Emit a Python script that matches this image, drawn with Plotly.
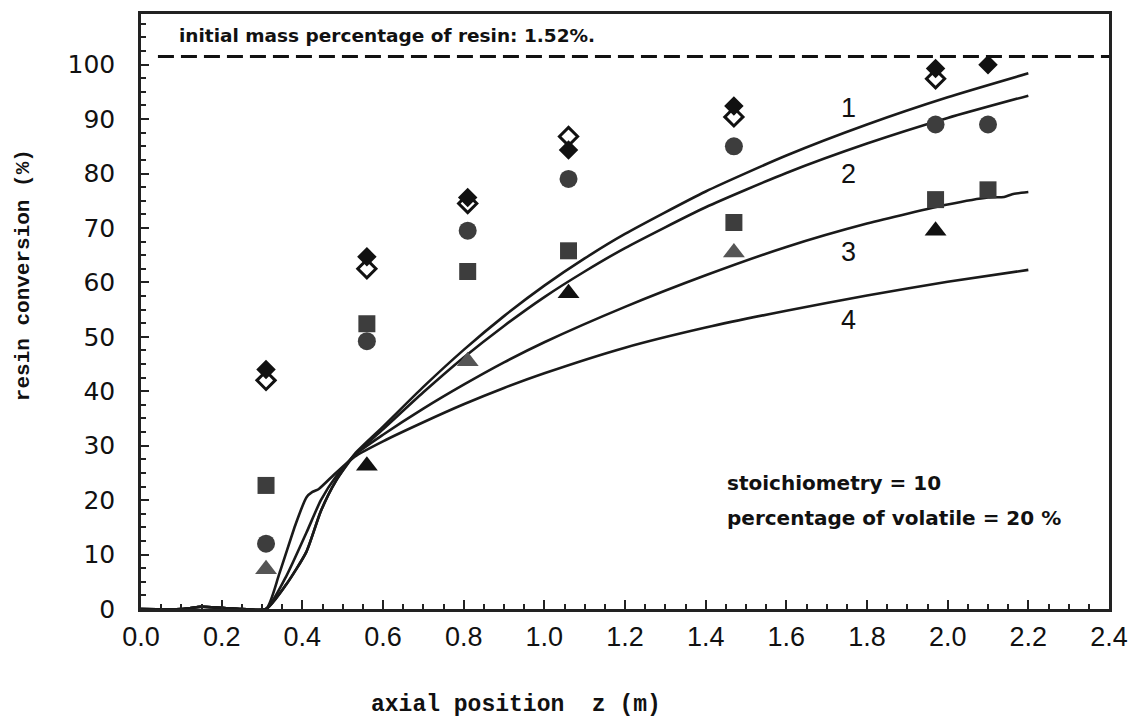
import plotly.graph_objects as go

# Measured resin conversion (%) at the sampling positions along the reactor
z_exp = [0.31, 0.56, 0.81, 1.06, 1.47, 1.97, 2.10]
conv_diamond_filled = [44.0, 64.7, 75.6, 84.3, 92.4, 99.3, 100.0]
conv_diamond_open = [42.0, 62.5, 74.5, 86.8, 90.4, 97.4, None]
conv_circle = [12.0, 49.2, 69.5, 79.0, 85.0, 89.0, 89.0]
conv_square = [22.7, 52.4, 62.0, 65.8, 71.0, 75.2, 77.0]
conv_triangle = [7.3, 26.3, 45.5, 58.0, 65.5, 69.5, None]
triangle_colors = ["#555555", "#111111", "#555555", "#111111", "#555555", "#111111", "#111111"]

# Simulated conversion profiles (curves 1-4)
curve1_z = [0.0, 0.10, 0.15, 0.20, 0.25, 0.31, 0.36, 0.41, 0.446, 0.483, 0.53, 0.60, 0.70,
            0.80, 0.90, 1.00, 1.10, 1.20, 1.40, 1.60, 1.80, 2.00, 2.20]
curve1_v = [0.0, 0.0, 0.4, 0.2, 0.0, 0.0, 4.5, 10.5, 18.0, 23.5, 28.5, 33.5, 40.8,
            47.6, 53.8, 59.4, 64.4, 68.9, 76.7, 83.3, 89.0, 94.0, 98.4]

curve2_z = [0.0, 0.10, 0.15, 0.20, 0.25, 0.31, 0.36, 0.41, 0.446, 0.483, 0.53, 0.60, 0.70,
            0.80, 0.90, 1.00, 1.10, 1.20, 1.40, 1.60, 1.80, 2.00, 2.20]
curve2_v = [0.0, 0.0, 0.4, 0.2, 0.0, 0.0, 4.5, 10.5, 18.0, 23.5, 28.3, 33.0, 39.8,
            46.2, 52.0, 57.3, 62.0, 66.3, 73.8, 80.1, 85.5, 90.2, 94.3]

curve3_z = [0.0, 0.10, 0.15, 0.20, 0.25, 0.31, 0.36, 0.41, 0.446, 0.483, 0.53, 0.60, 0.70,
            0.80, 0.90, 1.00, 1.20, 1.40, 1.60, 1.80, 2.00, 2.10, 2.14, 2.16, 2.20]
curve3_v = [0.0, 0.0, 0.4, 0.2, 0.0, 0.0, 6.0, 14.0, 20.0, 24.3, 28.3, 32.0, 36.8,
            41.2, 45.3, 49.0, 55.5, 61.3, 66.5, 70.8, 74.3, 75.6, 75.7, 76.2, 76.6]

curve4_z = [0.0, 0.10, 0.15, 0.20, 0.25, 0.31, 0.343, 0.384, 0.41, 0.425, 0.44, 0.483, 0.53,
            0.60, 0.70, 0.80, 0.90, 1.00, 1.20, 1.40, 1.60, 1.80, 2.00, 2.20]
curve4_v = [0.0, 0.0, 0.4, 0.2, 0.0, 0.0, 6.5, 15.7, 20.5, 21.5, 22.0, 25.0, 28.0,
            30.8, 34.3, 37.6, 40.6, 43.3, 48.0, 51.7, 54.8, 57.6, 60.1, 62.3]

curve_labels = ["1", "2", "3", "4"]
curve_label_z = [1.755, 1.755, 1.755, 1.755]
curve_label_v = [92.0, 80.0, 65.5, 53.0]

initial_level = 101.5  # dashed reference line

fig = go.Figure()

line_style = dict(color="#1a1a1a", width=2.6, shape="spline", smoothing=0.6)
for cz, cv in [(curve1_z, curve1_v), (curve2_z, curve2_v), (curve3_z, curve3_v), (curve4_z, curve4_v)]:
    fig.add_trace(go.Scatter(x=cz, y=cv, mode="lines", line=line_style,
                             hoverinfo="skip", showlegend=False))

fig.add_trace(go.Scatter(x=z_exp, y=conv_square, mode="markers", showlegend=False,
                         marker=dict(symbol="square", size=17, color="#3d3d3d")))
fig.add_trace(go.Scatter(x=z_exp, y=conv_circle, mode="markers", showlegend=False,
                         marker=dict(symbol="circle", size=18, color="#3d3d3d")))
fig.add_trace(go.Scatter(x=z_exp, y=conv_triangle, mode="markers", showlegend=False,
                         marker=dict(symbol="triangle-up", size=19, color=triangle_colors)))
fig.add_trace(go.Scatter(x=z_exp, y=conv_diamond_open, mode="markers", showlegend=False,
                         marker=dict(symbol="diamond-open", size=14, color="#111111",
                                     line=dict(width=3, color="#111111"))))
fig.add_trace(go.Scatter(x=z_exp, y=conv_diamond_filled, mode="markers", showlegend=False,
                         marker=dict(symbol="diamond", size=15, color="#111111")))

fig.add_shape(type="line", xref="x", yref="y", x0=0.042, x1=2.4, y0=initial_level, y1=initial_level,
              line=dict(color="#111111", width=3, dash="16px,7px"))

for lab, lz, lv in zip(curve_labels, curve_label_z, curve_label_v):
    fig.add_annotation(x=lz, y=lv, text=lab, showarrow=False, xref="x", yref="y",
                       font=dict(family="Liberation Sans", size=27, color="#111111"))

W, H = 1139, 726
L, R, T, B = 141, 26, 11, 117
PW, PH = W - L - R, H - T - B


def px_to_paper(px, py):
    return (px - L) / PW, 1 - (py - T) / PH


top_font = dict(family="DejaVu Sans", size=18.5, color="#111111", weight="bold")
note_font = dict(family="DejaVu Sans", size=20, color="#111111", weight="bold")
for text, (px, py), f in [
    ("initial mass percentage of resin: 1.52%.", (177, 33), top_font),
    ("stoichiometry = 10", (727, 482), note_font),
    ("percentage of volatile = 20 %", (727, 518), note_font),
]:
    ax_, ay_ = px_to_paper(px, py)
    fig.add_annotation(x=ax_, y=ay_, xref="paper", yref="paper", text=text, showarrow=False,
                       xanchor="left", yanchor="middle", font=f)

tx, ty = px_to_paper(518, 705)
fig.add_annotation(x=tx, y=ty, xref="paper", yref="paper",
                   text="axial position  z (m)", showarrow=False, xanchor="center", yanchor="middle",
                   font=dict(family="Liberation Mono", size=23, color="#111111", weight="bold"))
yx, yy = px_to_paper(23, 273)
fig.add_annotation(x=yx, y=yy, xref="paper", yref="paper",
                   text="resin conversion (%)", showarrow=False, textangle=-90,
                   xanchor="center", yanchor="middle",
                   font=dict(family="Liberation Mono", size=21, color="#111111", weight="bold"))

fig.update_layout(
    width=W, height=H,
    margin=dict(l=L, r=R, t=T, b=B),
    paper_bgcolor="white", plot_bgcolor="white",
    showlegend=False,
)
fig.update_xaxes(
    range=[0, 2.4], tickmode="array",
    tickvals=[0.0, 0.2, 0.4, 0.6, 0.8, 1.0, 1.2, 1.4, 1.6, 1.8, 2.0, 2.2, 2.4],
    ticktext=["0.0", "0.2", "0.4", "0.6", "0.8", "1.0", "1.2", "1.4", "1.6", "1.8", "2.0", "2.2", "2.4"],
    ticks="inside", ticklen=9, tickwidth=2, tickcolor="#222222",
    minor=dict(dtick=0.05, ticks="inside", ticklen=5, tickwidth=2, tickcolor="#222222"),
    showline=True, linecolor="#222222", linewidth=2.5, mirror=True,
    showgrid=False, zeroline=False, ticklabelstandoff=2,
    tickfont=dict(family="Liberation Sans", size=27, color="#111111"),
)
fig.update_yaxes(
    range=[0, 109.3], tickmode="array",
    tickvals=[0, 10, 20, 30, 40, 50, 60, 70, 80, 90, 100],
    ticktext=["0", "10", "20", "30", "40", "50", "60", "70", "80", "90", "100"],
    ticks="inside", ticklen=8, tickwidth=2, tickcolor="#222222",
    minor=dict(dtick=2.5, ticks="inside", ticklen=5, tickwidth=2, tickcolor="#222222"),
    showline=True, linecolor="#222222", linewidth=2.5, mirror=True,
    showgrid=False, zeroline=False, ticklabelstandoff=18,
    tickfont=dict(family="DejaVu Sans", size=25, color="#111111"),
)

fig.write_html("out.html")
